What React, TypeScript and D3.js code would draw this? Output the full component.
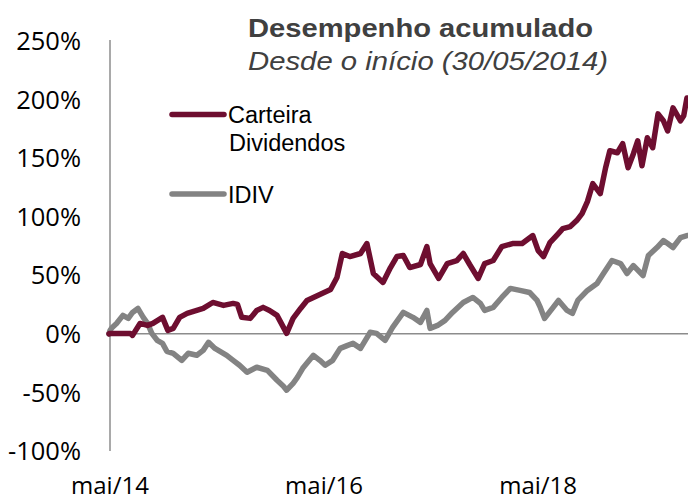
import React from "react";
import * as d3 from "d3";

// time as decimal years, values in % accumulated return
const carteiraT = [2014.41, 2014.42, 2014.51, 2014.61, 2014.63, 2014.70, 2014.77, 2014.82, 2014.91, 2014.96, 2015.01, 2015.07, 2015.14, 2015.23, 2015.29, 2015.38, 2015.48, 2015.57, 2015.61, 2015.65, 2015.73, 2015.79, 2015.85, 2015.91, 2015.98, 2016.04, 2016.07, 2016.13, 2016.20, 2016.26, 2016.32, 2016.38, 2016.48, 2016.54, 2016.59, 2016.66, 2016.76, 2016.82, 2016.88, 2016.97, 2017.04, 2017.10, 2017.16, 2017.22, 2017.32, 2017.38, 2017.41, 2017.49, 2017.57, 2017.66, 2017.72, 2017.78, 2017.86, 2017.92, 2018.00, 2018.08, 2018.18, 2018.27, 2018.37, 2018.42, 2018.47, 2018.53, 2018.60, 2018.65, 2018.72, 2018.78, 2018.83, 2018.88, 2018.93, 2019.00, 2019.05, 2019.09, 2019.16, 2019.21, 2019.26, 2019.31, 2019.35, 2019.39, 2019.44, 2019.49, 2019.54, 2019.59, 2019.63, 2019.68, 2019.75, 2019.78, 2019.81];
const carteiraV = [0, 0.4, 0.4, 0.4, -1.3, 8.9, 7.2, 8.9, 14.1, 3.0, 4.7, 14.1, 17.5, 20.0, 21.7, 26.8, 24.3, 26.0, 25.1, 14.1, 13.2, 20.0, 22.6, 20.0, 15.8, 5.5, 0.4, 13.2, 21.7, 28.5, 31.1, 33.6, 37.9, 48.1, 68.6, 66.0, 68.6, 77.1, 51.5, 43.9, 56.6, 66.0, 66.9, 56.6, 59.2, 74.5, 60.0, 47.3, 60.0, 62.6, 68.6, 59.2, 47.3, 60.0, 62.6, 74.5, 77.1, 77.1, 83.9, 71.1, 66.0, 77.9, 84.8, 89.9, 91.6, 96.7, 102.6, 112.9, 128.2, 119.7, 141.8, 156.3, 154.6, 162.3, 141.8, 153.8, 164.8, 143.5, 167.4, 158.9, 187.8, 181.9, 173.3, 192.9, 181.9, 186.1, 201.4];

const idivT = [2014.41, 2014.42, 2014.44, 2014.48, 2014.54, 2014.59, 2014.63, 2014.68, 2014.73, 2014.77, 2014.81, 2014.86, 2014.91, 2014.95, 2015.01, 2015.09, 2015.15, 2015.23, 2015.29, 2015.34, 2015.40, 2015.51, 2015.57, 2015.63, 2015.70, 2015.79, 2015.89, 2015.98, 2016.04, 2016.07, 2016.13, 2016.17, 2016.22, 2016.32, 2016.38, 2016.43, 2016.50, 2016.57, 2016.64, 2016.69, 2016.76, 2016.85, 2016.91, 2016.99, 2017.06, 2017.16, 2017.25, 2017.32, 2017.38, 2017.41, 2017.48, 2017.55, 2017.62, 2017.72, 2017.81, 2017.88, 2017.92, 2018.00, 2018.08, 2018.16, 2018.25, 2018.34, 2018.41, 2018.44, 2018.48, 2018.56, 2018.61, 2018.69, 2018.74, 2018.79, 2018.88, 2018.97, 2019.03, 2019.11, 2019.19, 2019.25, 2019.31, 2019.40, 2019.45, 2019.53, 2019.59, 2019.63, 2019.68, 2019.75, 2019.81];
const idivV = [0, 3.0, 5.5, 8.9, 15.8, 13.2, 18.3, 21.7, 14.1, 8.9, 0.4, -5.5, -8.1, -14.9, -16.6, -22.6, -16.6, -18.3, -14.1, -7.2, -12.4, -18.3, -22.6, -26.8, -32.8, -28.5, -31.1, -39.6, -44.7, -48.1, -42.2, -37.1, -29.4, -18.3, -22.6, -26.8, -22.6, -12.4, -9.8, -8.1, -12.4, 1.3, 0.4, -5.5, 5.5, 18.3, 14.1, 9.8, 20.0, 4.7, 7.2, 11.5, 18.3, 26.8, 31.1, 26.0, 20.0, 22.6, 31.1, 38.8, 37.1, 35.3, 28.5, 22.6, 13.2, 22.6, 28.5, 20.0, 17.5, 28.5, 37.1, 43.0, 51.5, 62.6, 60.0, 51.5, 58.3, 49.8, 66.9, 73.7, 79.6, 77.1, 73.7, 82.2, 83.9];

const yTicks = [250, 200, 150, 100, 50, 0, -50, -100];
const xTicks = [2014.41, 2016.41, 2018.41];
const xTickLabels = ["mai/14", "mai/16", "mai/18"];
const seriesNames = ["Carteira", "Dividendos", "IDIV"];
const titleText = "Desempenho acumulado";
const subtitleText = "Desde o início (30/05/2014)";

const RED = "#6E0E30";
const GRAY = "#838383";
const AXIS = "#8c8c8c";

export default function App() {
  const W = 688, H = 500;
  const x = d3.scaleLinear().domain([2014.41, 2019.82]).range([109, 688]);
  const y = d3.scaleLinear().domain([-100, 250]).range([451, 41]);
  const line = d3.line<[number, number]>().x(d => x(d[0])).y(d => y(d[1]));
  const cData = carteiraT.map((t, i) => [t, carteiraV[i]] as [number, number]);
  const iData = idivT.map((t, i) => [t, idivV[i]] as [number, number]);
  const labelFont = "'Open Sans', sans-serif";
  const arial = "'Liberation Sans', Arial, sans-serif";

  return (
    <svg width={W} height={H} style={{ position: "absolute", left: 0, top: 0, background: "#fff" }}>
      {/* axes */}
      <line x1={x.range()[0] + 1} x2={x.range()[0] + 1} y1={y(250) - 1} y2={y(-100)} stroke={AXIS} strokeWidth={1.5} />
      <line x1={x.range()[0] + 1} x2={W} y1={y(0)} y2={y(0)} stroke={AXIS} strokeWidth={1.5} />
      {yTicks.map(v => (
        <text key={v} x={81} y={y(v)} dy="0.36em" textAnchor="end" fontFamily={labelFont} fontSize={25.5} fill="#000">
          {v + "%"}
        </text>
      ))}
      {xTicks.map((t, i) => (
        <text key={t} x={x(t) + 1} y={494} textAnchor="middle" fontFamily={labelFont} fontSize={24} fill="#000">
          {xTickLabels[i]}
        </text>
      ))}
      {/* series */}
      <path d={line(iData) || ""} fill="none" stroke={GRAY} strokeWidth={5.5} strokeLinejoin="round" strokeLinecap="round" />
      <path d={line(cData) || ""} fill="none" stroke={RED} strokeWidth={5.5} strokeLinejoin="round" strokeLinecap="round" />
      {/* title */}
      <text x={248} y={37} fontFamily={arial} fontWeight="bold" fontSize={25.5} fill="#404040" textLength={345} lengthAdjust="spacingAndGlyphs">
        {titleText}
      </text>
      <text x={248} y={70} fontFamily={arial} fontStyle="italic" fontSize={25} fill="#404040" textLength={360} lengthAdjust="spacingAndGlyphs">
        {subtitleText}
      </text>
      {/* legend */}
      <line x1={172} x2={224} y1={114.5} y2={114.5} stroke={RED} strokeWidth={5.5} strokeLinecap="round" />
      <text x={228} y={123} fontFamily={arial} fontSize={23.5} fill="#000">{seriesNames[0]}</text>
      <text x={229} y={151} fontFamily={arial} fontSize={23.5} fill="#000">{seriesNames[1]}</text>
      <line x1={172} x2={224} y1={194} y2={194} stroke={GRAY} strokeWidth={5.5} strokeLinecap="round" />
      <text x={228} y={203} fontFamily={arial} fontSize={23.5} fill="#000">{seriesNames[2]}</text>
    </svg>
  );
}
